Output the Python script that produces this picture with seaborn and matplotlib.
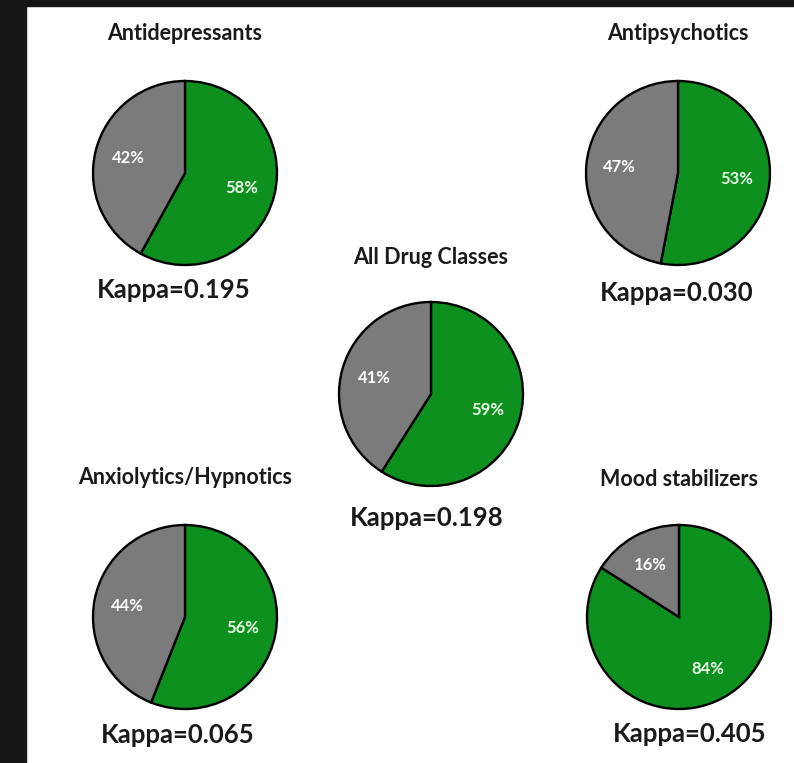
import matplotlib
matplotlib.use("Agg")
import matplotlib.pyplot as plt
from matplotlib.patches import Rectangle
import seaborn as sns

# Data
groups = ["Antidepressants", "Antipsychotics", "All Drug Classes",
          "Anxiolytics/Hypnotics", "Mood stabilizers"]
agree_pct = [58, 53, 59, 56, 84]
disagree_pct = [42, 47, 41, 44, 16]
kappa = [0.195, 0.030, 0.198, 0.065, 0.405]

sns.set_theme(style="white")
plt.rcParams['font.family'] = ['Lato', 'DejaVu Sans']

green = "#0e901f"
grey = "#7b7b7b"
W, H = 794, 763
R = 92  # pie radius in pixels

# layout in pixels: pie centre, title y, kappa label x/y
centres = [(185, 173), (678, 173), (431, 394), (185, 617), (679, 617)]
title_y = [33, 33, 257, 478, 480]
kappa_xy = [(174, 290), (677, 293), (427, 518), (178, 735), (690, 734)]

fig = plt.figure(figsize=(W / 100, H / 100), dpi=100, facecolor="white")
# dark frame on the left and top of the screenshot
fig.patches.append(Rectangle((0, 0), 26 / W, 1, transform=fig.transFigure,
                             color="#161616", zorder=0))
fig.patches.append(Rectangle((0, 1 - 6 / H), 1, 6 / H, transform=fig.transFigure,
                             color="#161616", zorder=0))

pad = 1.15
for i, name in enumerate(groups):
    cx, cy = centres[i]
    ax = fig.add_axes([(cx - R * pad) / W, 1 - (cy + R * pad) / H,
                       2 * R * pad / W, 2 * R * pad / H])
    wedges, texts, autotexts = ax.pie(
        [agree_pct[i], disagree_pct[i]], colors=[green, grey],
        startangle=90, counterclock=False,
        autopct=lambda p: f"{p:.0f}%", pctdistance=0.64,
        wedgeprops=dict(edgecolor="black", linewidth=1.7),
        textprops=dict(color="white", fontsize=12, fontweight="bold"))
    autotexts[0].set_color("#eaffea")
    ax.set_xlim(-pad, pad)
    ax.set_ylim(-pad, pad)
    ax.axis("off")

    fig.text(cx / W, 1 - title_y[i] / H, name, ha="center", va="center",
             fontsize=15.5, fontweight="bold", color="#1a1a1a")
    kx, ky = kappa_xy[i]
    fig.text(kx / W, 1 - ky / H, f"Kappa={kappa[i]:.3f}", ha="center",
             va="center", fontsize=18.5, fontweight="bold", color="#1a1a1a")

fig.savefig("out.png", dpi=100, facecolor=fig.get_facecolor())
